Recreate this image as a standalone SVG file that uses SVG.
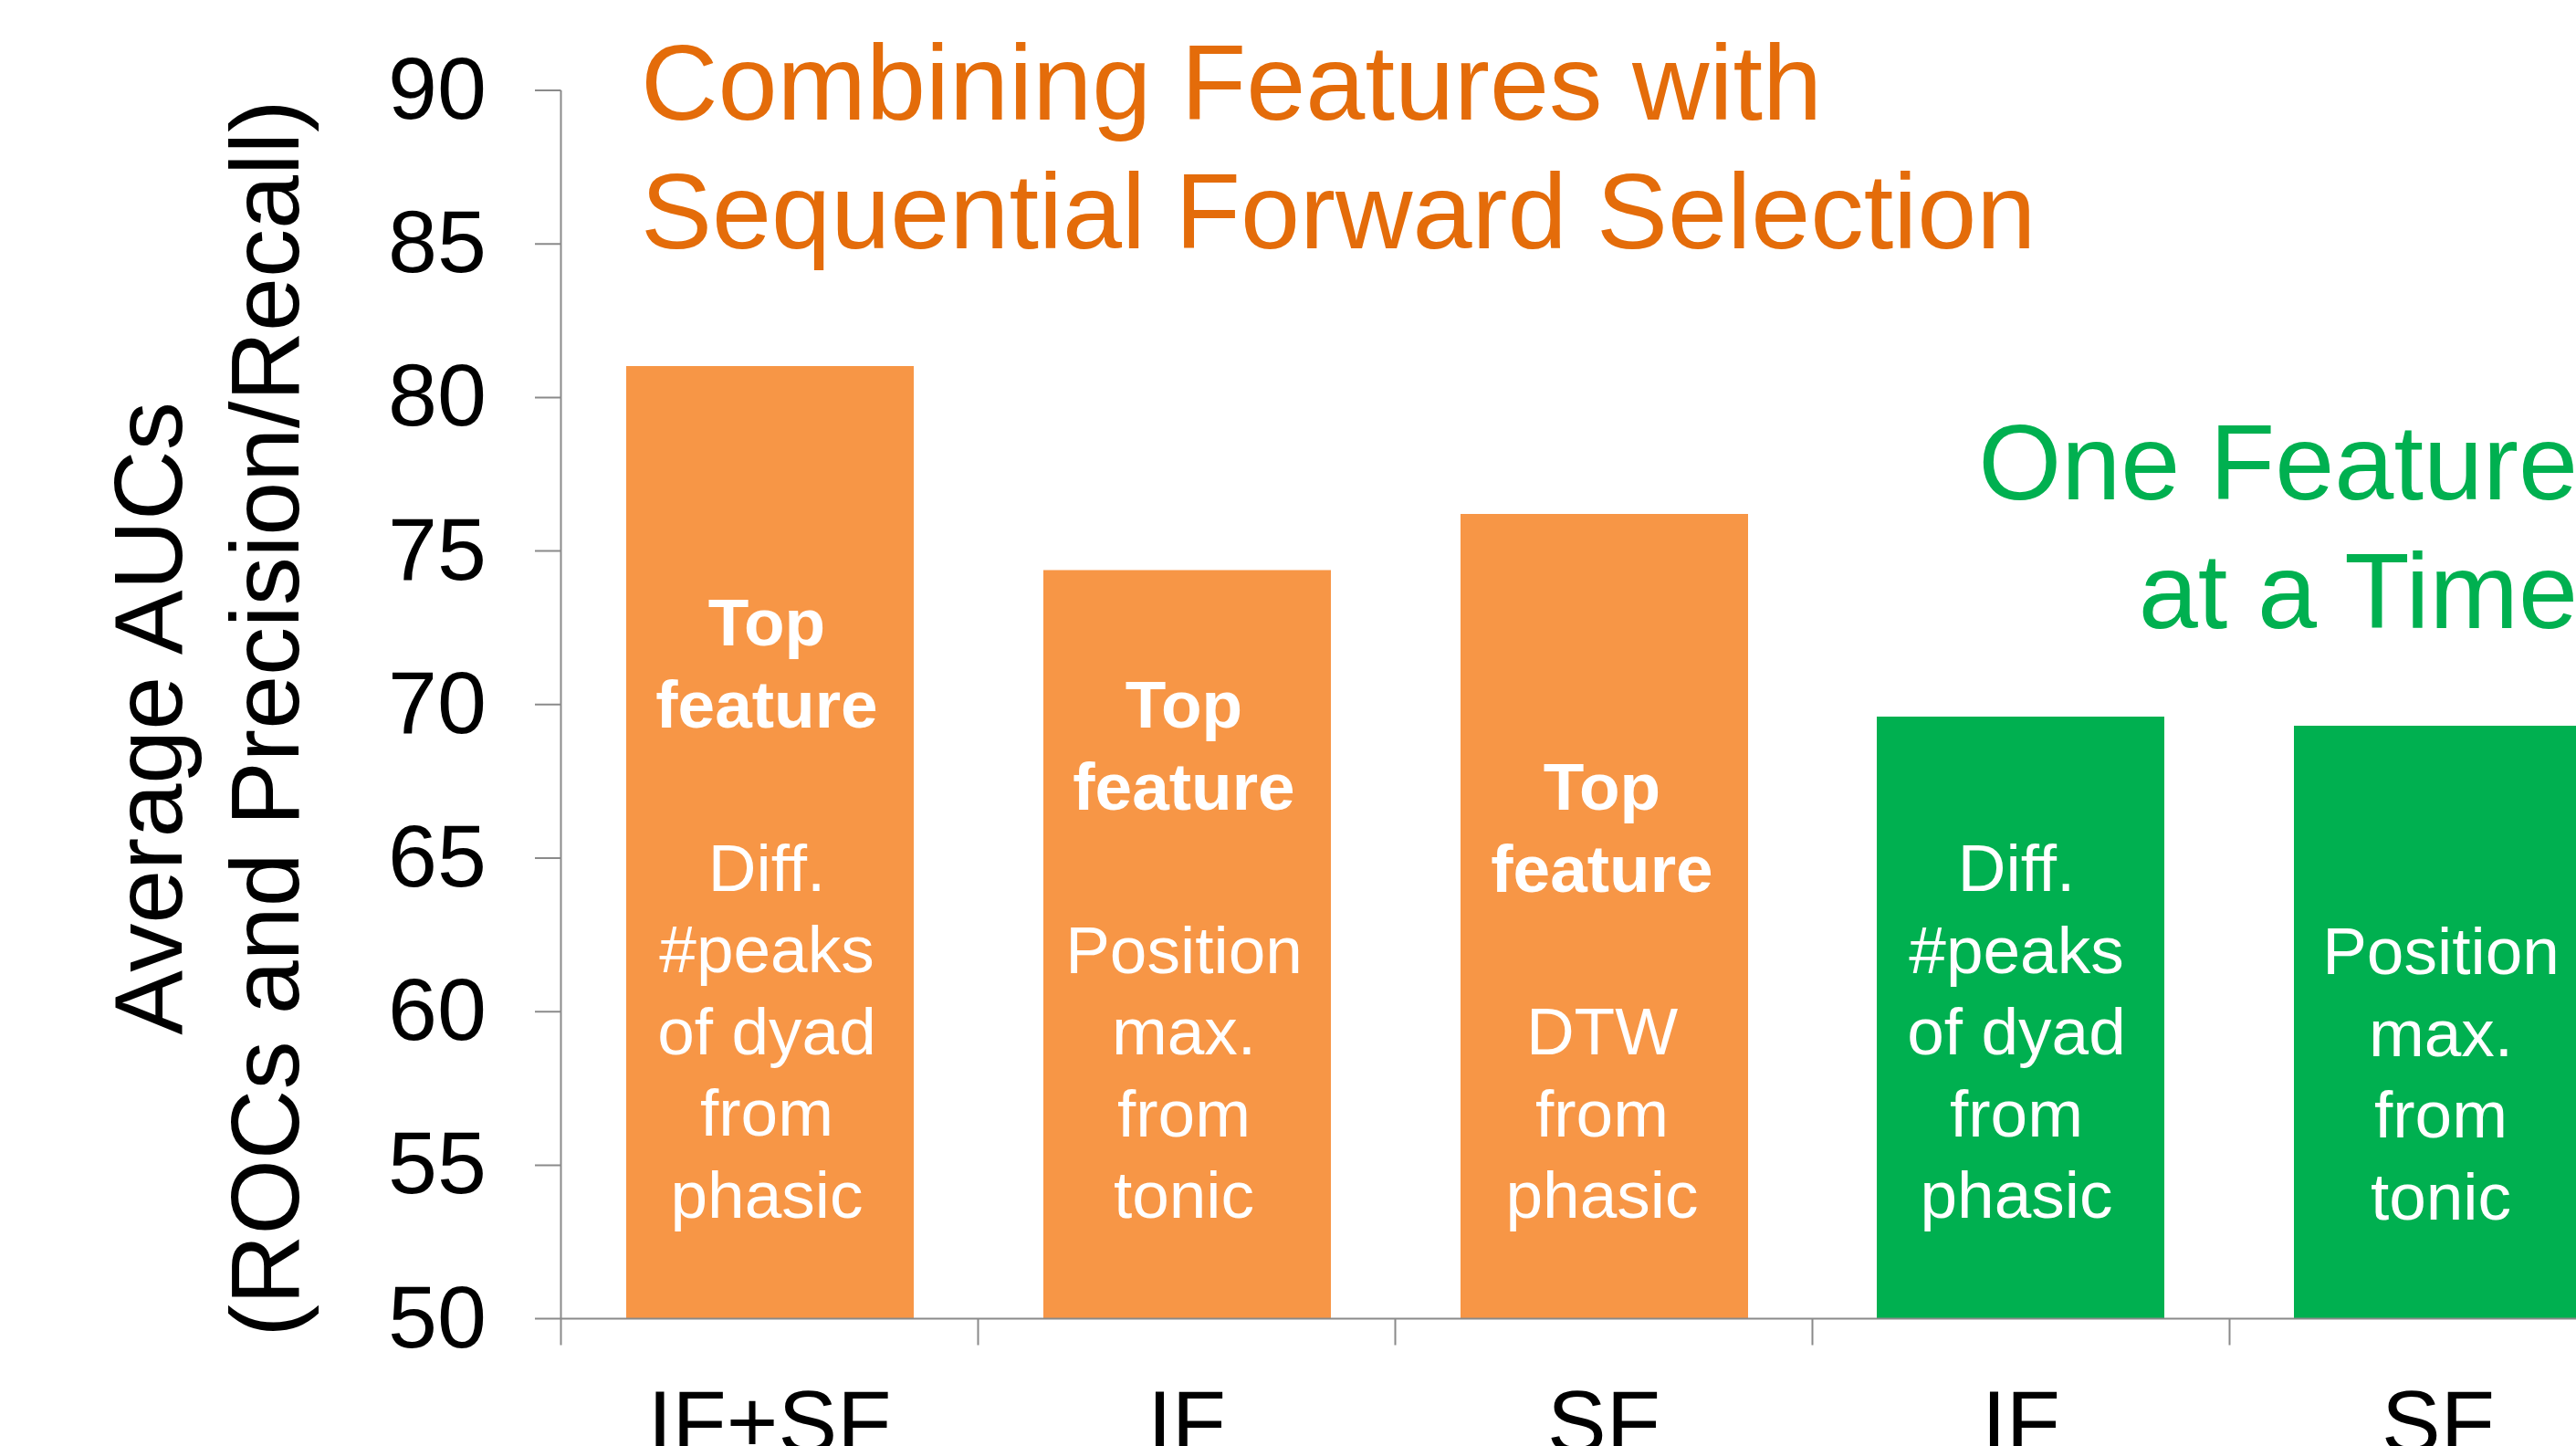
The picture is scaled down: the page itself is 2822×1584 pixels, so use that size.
<svg xmlns="http://www.w3.org/2000/svg" width="2822" height="1584" viewBox="0 0 2822 1584">
  <style>
    text { font-family: "Liberation Sans", Arial, sans-serif; }
    .axis { stroke: #8a8a8a; stroke-width: 2; fill: none; }
    .tick { font-size: 97px; fill: #000; text-anchor: end; }
    .cat { font-size: 97px; fill: #000; text-anchor: middle; }
    .ytitle { font-size: 106px; fill: #000; text-anchor: middle; }
    .orange { fill: #F79646; }
    .green { fill: #00B050; }
    .lbl { font-size: 73px; fill: #fff; text-anchor: middle; }
    .b { font-weight: bold; }
    .t-orange { font-size: 117px; fill: #E46C0A; }
    .t-green { font-size: 117px; fill: #00B050; text-anchor: end; }
  </style>

  <!-- bars with their in-bar labels -->
  <g id="bar-ifsf-combined">
    <rect class="orange" x="686" y="401" width="315" height="1043.5"/>
    <text class="lbl b" x="840" y="707">Top</text>
    <text class="lbl b" x="840" y="796.5">feature</text>
    <text class="lbl" x="840" y="975.5">Diff.</text>
    <text class="lbl" x="840" y="1065">#peaks</text>
    <text class="lbl" x="840" y="1154.5">of dyad</text>
    <text class="lbl" x="840" y="1244">from</text>
    <text class="lbl" x="840" y="1333.5">phasic</text>
  </g>

  <g id="bar-if-combined">
    <rect class="orange" x="1143" y="624.5" width="315" height="820"/>
    <text class="lbl b" x="1297" y="797">Top</text>
    <text class="lbl b" x="1297" y="886.5">feature</text>
    <text class="lbl" x="1297" y="1066">Position</text>
    <text class="lbl" x="1297" y="1155">max.</text>
    <text class="lbl" x="1297" y="1244.5">from</text>
    <text class="lbl" x="1297" y="1334">tonic</text>
  </g>

  <g id="bar-sf-combined">
    <rect class="orange" x="1600" y="563" width="315" height="881.5"/>
    <text class="lbl b" x="1755" y="887">Top</text>
    <text class="lbl b" x="1755" y="977">feature</text>
    <text class="lbl" x="1755" y="1155">DTW</text>
    <text class="lbl" x="1755" y="1244.5">from</text>
    <text class="lbl" x="1755" y="1334">phasic</text>
  </g>

  <g id="bar-if-single">
    <rect class="green" x="2056" y="785" width="315" height="659.5"/>
    <text class="lbl" x="2209" y="976">Diff.</text>
    <text class="lbl" x="2209" y="1066">#peaks</text>
    <text class="lbl" x="2209" y="1155">of dyad</text>
    <text class="lbl" x="2209" y="1244.5">from</text>
    <text class="lbl" x="2209" y="1334">phasic</text>
  </g>

  <g id="bar-sf-single">
    <rect class="green" x="2513" y="795" width="320" height="649.5"/>
    <text class="lbl" x="2674" y="1067">Position</text>
    <text class="lbl" x="2674" y="1157">max.</text>
    <text class="lbl" x="2674" y="1246">from</text>
    <text class="lbl" x="2674" y="1336">tonic</text>
  </g>

  <!-- axes, ticks and tick labels -->
  <g id="axes">
    <path class="axis" d="M614.5 99 V1444.5 M586 1444.5 H2822
      M586 99 H614.5 M586 267.2 H614.5 M586 435.4 H614.5 M586 603.6 H614.5
      M586 771.8 H614.5 M586 940 H614.5 M586 1108.2 H614.5 M586 1276.4 H614.5
      M614.5 1444.5 V1473.5 M1071.5 1444.5 V1473.5 M1528.5 1444.5 V1473.5
      M1985.5 1444.5 V1473.5 M2442.5 1444.5 V1473.5"/>
    <text class="tick" x="533" y="130">90</text>
    <text class="tick" x="533" y="298.2">85</text>
    <text class="tick" x="533" y="466.4">80</text>
    <text class="tick" x="533" y="634.6">75</text>
    <text class="tick" x="533" y="802.8">70</text>
    <text class="tick" x="533" y="971">65</text>
    <text class="tick" x="533" y="1139.2">60</text>
    <text class="tick" x="533" y="1307.4">55</text>
    <text class="tick" x="533" y="1475.6">50</text>
    <text class="cat" x="843" y="1591">IF+SF</text>
    <text class="cat" x="1300" y="1591">IF</text>
    <text class="cat" x="1757" y="1591">SF</text>
    <text class="cat" x="2214" y="1591">IF</text>
    <text class="cat" x="2671" y="1591">SF</text>
  </g>

  <!-- y-axis title -->
  <g id="y-title">
    <text class="ytitle" transform="translate(199,787) rotate(-90)">Average AUCs</text>
    <text class="ytitle" transform="translate(327,787) rotate(-90)">(ROCs and Precision/Recall)</text>
  </g>

  <!-- group headings -->
  <g id="heading-combined">
    <text class="t-orange" x="702" y="131">Combining Features with</text>
    <text class="t-orange" x="702" y="272">Sequential Forward Selection</text>
  </g>
  <g id="heading-single">
    <text class="t-green" x="2824" y="547">One Feature</text>
    <text class="t-green" x="2824" y="688">at a Time</text>
  </g>
</svg>
